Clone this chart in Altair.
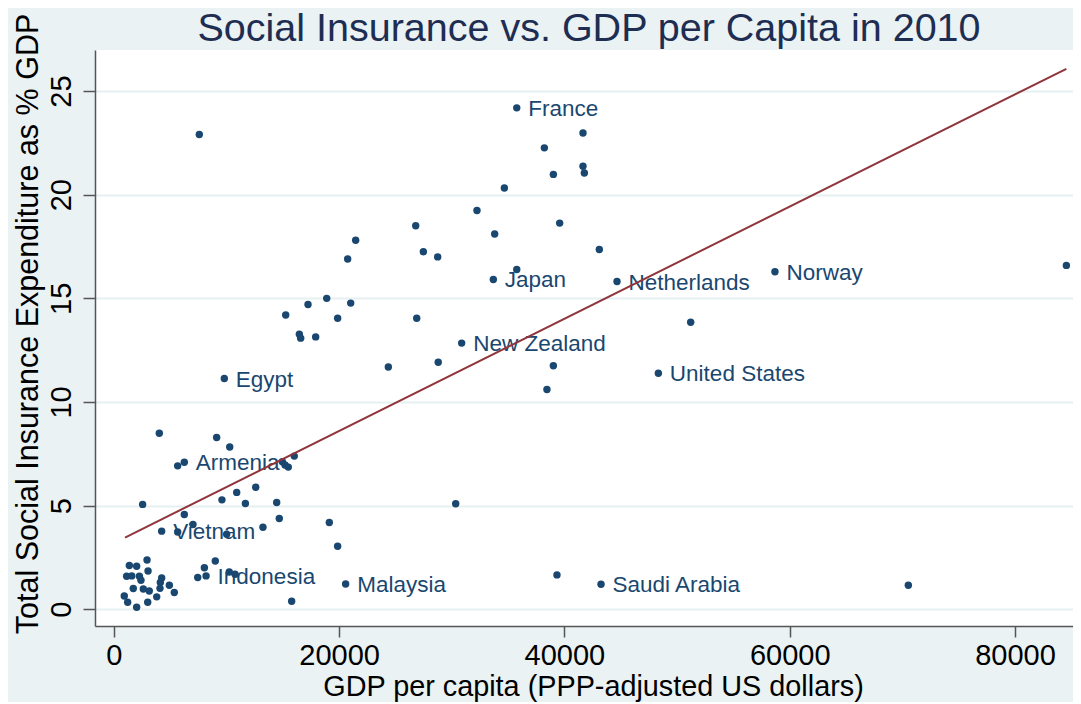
import altair as alt
import pandas as pd

# ---- data ----
gdp = [7590, 26800, 21470, 27480, 28750, 20760, 18900, 17240, 21030, 15260,
       19870, 26890, 16470, 16590, 17920, 35770, 41650, 38220, 41650, 41770,
       39020, 34670, 32240, 39580, 33810, 43100, 35770, 33690, 44670, 51210,
       30880, 58690, 84560, 24370, 28800, 9810, 4040, 9130, 10290, 16020,
       5670, 6260, 14960, 15200, 15490, 12600, 10910, 9600, 11680, 14460,
       2560, 6260, 14690, 7030, 19130, 13240, 4250, 5670, 10020, 19870,
       9010, 2950, 8040, 7450, 8190, 10250, 10760, 20580, 15790,
       1380, 2030, 3040, 1140, 1590, 2270, 2410, 4250, 4130, 4930,
       1730, 2620, 3150, 4100, 5370, 930, 1230, 3810, 3010, 2030,
       39020, 48340, 38450, 30350, 39340, 43250, 70530]
social = [22.9, 18.5, 17.8, 17.25, 17.0, 16.9, 15.0, 14.7, 14.77, 14.2,
          14.04, 14.04, 13.27, 13.08, 13.14, 24.19, 22.98, 22.26, 21.37, 21.05,
          20.98, 20.32, 19.24, 18.63, 18.1, 17.36, 16.39, 15.91, 15.81, 13.85,
          12.84, 16.28, 16.59, 11.69, 11.92, 11.13, 8.49, 8.29, 7.83, 7.39,
          6.92, 7.09, 7.12, 6.96, 6.86, 5.89, 5.64, 5.28, 5.10, 5.15,
          5.06, 4.57, 4.38, 4.09, 4.19, 3.96, 3.77, 3.73, 3.62, 3.04,
          2.33, 2.38, 2.0, 1.53, 1.61, 1.8, 1.69, 1.22, 0.39,
          2.11, 2.08, 1.85, 1.59, 1.61, 1.59, 1.4, 1.51, 1.29, 1.16,
          1.0, 0.98, 0.88, 1.01, 0.81, 0.64, 0.34, 0.6, 0.34, 0.1,
          11.75, 11.39, 10.6, 5.09, 1.66, 1.21, 1.16]
country = [""] * len(gdp)
named = {15: "France", 27: "Japan", 28: "Netherlands", 30: "New Zealand",
         31: "Norway", 35: "Egypt", 41: "Armenia", 56: "Vietnam",
         64: "Indonesia", 67: "Malaysia", 90: "United States", 94: "Saudi Arabia"}
for i, n in named.items():
    country[i] = n

fit_gdp = [994, 84560]
fit_social = [3.46, 26.07]

x_ticks = [0, 20000, 40000, 60000, 80000]
y_ticks = [0, 5, 10, 15, 20, 25]

df = pd.DataFrame({"gdp": gdp, "social": social, "country": country})
fit = pd.DataFrame({"gdp": fit_gdp, "social": fit_social})

FONT = "Liberation Sans, Arial, sans-serif"
BG = "#EAF2F3"

xscale = alt.Scale(domain=[-1669, 85148], nice=False, zero=False)
yscale = alt.Scale(domain=[-0.806, 26.98], nice=False, zero=False)

xaxis = alt.Axis(values=x_ticks, format="d", grid=False, tickSize=11,
                 labelFontSize=29, labelPadding=4, labelColor="#000000",
                 labelFont=FONT, domainColor="#555555", tickColor="#555555",
                 domainWidth=1.5, tickWidth=1.5,
                 title="GDP per capita (PPP-adjusted US dollars)",
                 titleFontSize=28.8, titleFont=FONT, titleFontWeight="normal",
                 titleColor="#000000", titleX=498, titleY=69,
                 titleBaseline="alphabetic", titleAlign="center")

yaxis = alt.Axis(values=y_ticks, format="d", grid=True, gridColor="#E6EFF1",
                 gridWidth=2, tickSize=12, labelAngle=270, labelAlign="center",
                 labelBaseline="alphabetic", labelPadding=13,
                 labelFontSize=29, labelColor="#000000", labelFont=FONT,
                 domainColor="#555555", tickColor="#555555",
                 domainWidth=1.5, tickWidth=1.5,
                 title="Total Social Insurance Expenditure as % GDP",
                 titleFontSize=30.5, titleFont=FONT, titleFontWeight="normal",
                 titleColor="#000000", titleAngle=270, titleX=-58, titleY=273.5,
                 titleBaseline="alphabetic", titleAlign="center")

base = alt.Chart(df)

points = base.mark_circle(size=55, color="#1a476f", opacity=1).encode(
    x=alt.X("gdp:Q", scale=xscale, axis=xaxis),
    y=alt.Y("social:Q", scale=yscale, axis=yaxis),
)

labels = base.transform_filter(alt.datum.country != "").mark_text(
    align="left", baseline="middle", dx=11.5, dy=1, fontSize=22.5,
    font=FONT, color="#1a476f"
).encode(
    x=alt.X("gdp:Q", scale=xscale),
    y=alt.Y("social:Q", scale=yscale),
    text="country:N",
)

line = alt.Chart(fit).mark_line(color="#90353b", strokeWidth=2).encode(
    x=alt.X("gdp:Q", scale=xscale),
    y=alt.Y("social:Q", scale=yscale),
)

chart = alt.layer(points, labels, line).properties(
    width=978, height=576,
    title=alt.TitleParams("Social Insurance vs. GDP per Capita in 2010",
                          fontSize=39.5, font=FONT, color="#1e2d52",
                          fontWeight="normal", anchor="middle", frame="group",
                          baseline="alphabetic", offset=0, dx=5, dy=67),
    padding={"left": 87, "top": 42, "right": 0, "bottom": 76},
    autosize=alt.AutoSizeParams(type="none"),
    background=BG,
).configure_view(fill="white", stroke=None)

chart.save("out.html", embed_options={"renderer": "svg", "actions": False})
